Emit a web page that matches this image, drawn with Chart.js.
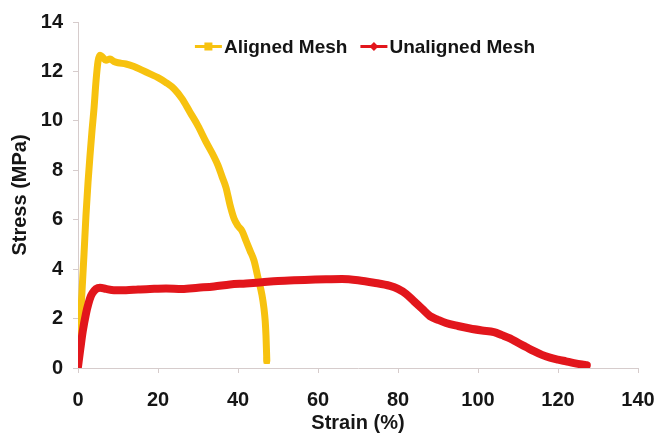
<!DOCTYPE html>
<html>
<head>
<meta charset="utf-8">
<script src="https://cdn.jsdelivr.net/npm/chart.js@4/dist/chart.umd.min.js"></script>
<style>
html,body{margin:0;padding:0;background:#fff;}
#wrap{width:654px;height:438px;position:relative;}
</style>
</head>
<body>
<div id="wrap"><canvas id="c" width="654" height="438"></canvas></div>
<script>
// ---- data ----
const seriesNames = ['Aligned Mesh', 'Unaligned Mesh'];
const xTicks = [0, 20, 40, 60, 80, 100, 120, 140];
const yTicks = [0, 2, 4, 6, 8, 10, 12, 14];

const alignedStrain = [0, 0.5, 1, 1.5, 2, 2.5, 3, 3.5, 4, 4.5, 5, 5.5, 6, 7, 8, 9, 10, 12, 14, 16, 18, 20, 22, 24, 26, 28, 30, 32, 34, 35, 36, 37, 38, 39, 40, 41, 42, 43, 44, 45, 46, 46.5, 46.8, 47, 47.2];
const alignedStress = [0.1, 1.6, 3.1, 4.6, 6.2, 7.5, 8.6, 9.6, 10.5, 11.6, 12.4, 12.65, 12.6, 12.45, 12.5, 12.4, 12.35, 12.3, 12.2, 12.05, 11.9, 11.75, 11.55, 11.3, 10.9, 10.35, 9.8, 9.15, 8.55, 8.2, 7.75, 7.3, 6.6, 6.05, 5.75, 5.55, 5.15, 4.75, 4.35, 3.65, 2.95, 2.4, 1.9, 1.3, 0.3];

const unalignedStrain = [0, 0.6, 1.2, 2, 2.6, 3.2, 3.7, 4.5, 5.5, 7, 9, 12, 15, 18, 22, 26, 30, 34, 38, 42, 46, 50, 54, 58, 62, 66, 70, 74, 78, 80, 82, 84, 86, 88, 90, 92, 95, 98, 101, 104, 106, 108, 110, 112, 114, 116, 118, 120, 122, 124, 126, 127.2];
const unalignedStress = [0.05, 0.8, 1.5, 2.2, 2.6, 2.9, 3.05, 3.2, 3.25, 3.2, 3.15, 3.15, 3.18, 3.2, 3.22, 3.2, 3.25, 3.3, 3.38, 3.42, 3.47, 3.52, 3.55, 3.57, 3.59, 3.6, 3.55, 3.45, 3.32, 3.2, 3.0, 2.7, 2.4, 2.1, 1.95, 1.82, 1.7, 1.6, 1.52, 1.45, 1.33, 1.2, 1.02, 0.85, 0.68, 0.53, 0.42, 0.34, 0.27, 0.2, 0.14, 0.11];

const YELLOW = '#F7C20F';
const RED = '#E2161C';
const AXIS = '#d6cccc';
const FONT = "'Liberation Sans', Arial, sans-serif";

function pts(xs, ys) { return xs.map((x, i) => ({x: x, y: ys[i]})); }

const alignedPts = pts(alignedStrain, alignedStress);
const unalignedPts = pts(unalignedStrain, unalignedStress);

// custom legend drawn inside plot area (line + marker, as in the reference)
const legendPlugin = {
  id: 'meshLegend',
  afterDraw(chart) {
    const ctx = chart.ctx;
    ctx.save();
    ctx.font = "bold 19px " + FONT;
    ctx.textBaseline = 'middle';
    const iconW = 27, gap = 2, itemGap = 13;
    const ds = chart.data.datasets;
    const widths = ds.map(d => iconW + gap + ctx.measureText(d.label).width);
    const total = widths.reduce((a, b) => a + b, 0) + itemGap * (ds.length - 1);
    let x = 365 - total / 2;
    const y = 46.5;
    ds.forEach((d, i) => {
      ctx.strokeStyle = d.borderColor;
      ctx.lineWidth = 3;
      ctx.beginPath(); ctx.moveTo(x, y); ctx.lineTo(x + iconW, y); ctx.stroke();
      ctx.fillStyle = d.borderColor;
      const cx = x + iconW / 2;
      if (i === 0) {
        ctx.fillRect(cx - 4, y - 4, 8, 8);
      } else {
        ctx.beginPath();
        ctx.moveTo(cx, y - 4.5); ctx.lineTo(cx + 4.5, y); ctx.lineTo(cx, y + 4.5); ctx.lineTo(cx - 4.5, y);
        ctx.closePath(); ctx.fill();
      }
      ctx.fillStyle = '#141414';
      ctx.textAlign = 'left';
      ctx.fillText(d.label, x + iconW + gap, y + 1);
      x += widths[i] + itemGap;
    });
    ctx.restore();
  }
};

new Chart(document.getElementById('c'), {
  type: 'line',
  data: {
    datasets: [
      {
        label: seriesNames[0],
        data: alignedPts,
        borderColor: YELLOW,
        backgroundColor: YELLOW,
        borderWidth: 7,
        cubicInterpolationMode: 'monotone',
        borderCapStyle: 'round',
        borderJoinStyle: 'round',
        pointStyle: 'rect',
        pointRadius: alignedPts.map((p, i) => i === alignedPts.length - 1 ? 4.5 : 0),
        pointBorderWidth: 0,
        order: 2
      },
      {
        label: seriesNames[1],
        data: unalignedPts,
        borderColor: RED,
        backgroundColor: RED,
        borderWidth: 8,
        cubicInterpolationMode: 'monotone',
        borderCapStyle: 'round',
        borderJoinStyle: 'round',
        pointRadius: 0,
        order: 1
      }
    ]
  },
  options: {
    responsive: false,
    animation: false,
    layout: { padding: { top: 19, right: 16, left: 0, bottom: 0 } },
    plugins: {
      legend: { display: false },
      tooltip: { enabled: false }
    },
    scales: {
      x: {
        type: 'linear',
        min: xTicks[0],
        max: xTicks[xTicks.length - 1],
        afterBuildTicks: s => { s.ticks = xTicks.map(v => ({value: v})); },
        afterFit: s => { s.height = 70; s.paddingLeft = 0; s.paddingRight = 0; },
        ticks: {
          autoSkip: false,
          maxRotation: 0,
          padding: 15,
          color: '#161616',
          font: { family: FONT, size: 20, weight: 'bold' }
        },
        grid: { drawOnChartArea: false, drawTicks: true, tickLength: 5, color: AXIS },
        border: { color: AXIS, width: 1 },
        title: {
          display: true,
          text: 'Strain (%)',
          color: '#161616',
          font: { family: FONT, size: 20, weight: 'bold' },
          padding: { top: 0, bottom: 3 }
        }
      },
      y: {
        type: 'linear',
        min: yTicks[0],
        max: yTicks[yTicks.length - 1],
        afterBuildTicks: s => { s.ticks = yTicks.map(v => ({value: v})); },
        afterFit: s => { s.width = 78; },
        ticks: {
          autoSkip: false,
          padding: 10,
          color: '#161616',
          font: { family: FONT, size: 20, weight: 'bold' }
        },
        grid: { drawOnChartArea: false, drawTicks: true, tickLength: 5, color: AXIS },
        border: { color: AXIS, width: 1 },
        title: {
          display: true,
          text: 'Stress (MPa)',
          color: '#161616',
          font: { family: FONT, size: 20, weight: 'bold' },
          padding: { top: 8, bottom: 0 }
        }
      }
    }
  },
  plugins: [legendPlugin]
});
</script>
</body>
</html>
